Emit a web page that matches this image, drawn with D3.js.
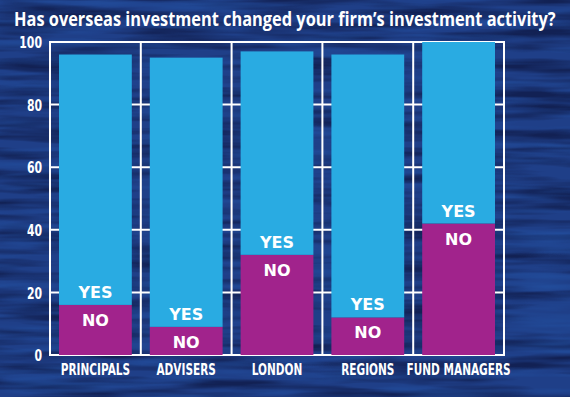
<!DOCTYPE html>
<html>
<head>
<meta charset="utf-8">
<script src="https://cdn.jsdelivr.net/npm/d3@7"></script>
<style>
  html, body { margin: 0; padding: 0; background: #1d3a80; }
  svg { display: block; }
</style>
</head>
<body>
<div id="chart"></div>
<script>
// Chart data
const categories = ["PRINCIPALS", "ADVISERS", "LONDON", "REGIONS", "FUND MANAGERS"];
const noValues = [16, 9, 32, 12, 42];
const yesValues = [80, 86, 65, 84, 58];
const yTicks = [0, 20, 40, 60, 80, 100];
const title = "Has overseas investment changed your firm\u2019s investment activity?";

const width = 570, height = 397;
const margin = { top: 42, right: 66, bottom: 42, left: 50 };
const innerW = width - margin.left - margin.right;
const innerH = height - margin.top - margin.bottom;
const condensed = 0.68;

const svg = d3.select("#chart").append("svg")
    .attr("width", width)
    .attr("height", height);

// Ocean-ish background: dark and light horizontal streaks
const defs = svg.append("defs");
function streaks(id, seed, r, gr, b, aMul, aOff) {
    const f = defs.append("filter")
        .attr("id", id)
        .attr("color-interpolation-filters", "sRGB")
        .attr("x", 0).attr("y", 0).attr("width", "100%").attr("height", "100%");
    f.append("feTurbulence")
        .attr("type", "fractalNoise")
        .attr("baseFrequency", "0.008 0.1")
        .attr("numOctaves", 3)
        .attr("seed", seed);
    f.append("feColorMatrix")
        .attr("type", "matrix")
        .attr("values", `0 0 0 0 ${r}  0 0 0 0 ${gr}  0 0 0 0 ${b}  ${aMul} 0 0 0 ${aOff}`);
}
streaks("dark", 3, 0.07, 0.13, 0.33, 2.6, -1.0);
streaks("light", 8, 0.14, 0.33, 0.65, 2.4, -1.1);

svg.append("rect").attr("width", width).attr("height", height).attr("fill", "#1f3f88");
svg.append("rect").attr("width", width).attr("height", height).attr("filter", "url(#dark)");
svg.append("rect").attr("width", width).attr("height", height).attr("filter", "url(#light)").attr("opacity", 0.6);

// Title, squeezed horizontally to the reference width
const titleText = svg.append("text")
    .attr("x", 0)
    .attr("y", 0)
    .style("font-family", "'Open Sans', sans-serif")
    .style("font-weight", 700)
    .style("font-size", "19px")
    .style("fill", "#ffffff")
    .text(title);
const titleLen = titleText.node().getComputedTextLength();
titleText.attr("transform", `translate(14,26) scale(${542 / titleLen},1)`);

const g = svg.append("g").attr("transform", `translate(${margin.left},${margin.top})`);

const x = d3.scaleBand().domain(categories).range([0, innerW]).paddingInner(0).paddingOuter(0);
const y = d3.scaleLinear().domain([0, 100]).range([innerH, 0]);
const barPad = 9;

// Grid lines (horizontal + band separators)
g.selectAll(".hgrid")
    .data(yTicks)
    .join("line")
    .attr("x1", 0).attr("x2", innerW)
    .attr("y1", d => y(d)).attr("y2", d => y(d))
    .attr("stroke", "#ffffff").attr("stroke-width", 2);

g.selectAll(".vgrid")
    .data(categories.slice(1))
    .join("line")
    .attr("x1", d => x(d)).attr("x2", d => x(d))
    .attr("y1", 0).attr("y2", innerH)
    .attr("stroke", "#ffffff").attr("stroke-width", 2);

// Frame
g.append("rect")
    .attr("x", 0).attr("y", 0)
    .attr("width", innerW).attr("height", innerH)
    .attr("fill", "none")
    .attr("stroke", "#ffffff").attr("stroke-width", 2);

// Stacked bars
const rows = categories.map((c, i) => ({ cat: c, no: noValues[i], yes: yesValues[i] }));

g.selectAll(".no")
    .data(rows)
    .join("rect")
    .attr("x", d => x(d.cat) + barPad)
    .attr("width", x.bandwidth() - 2 * barPad)
    .attr("y", d => y(d.no))
    .attr("height", d => y(0) - y(d.no))
    .attr("fill", "#a1238c");

g.selectAll(".yes")
    .data(rows)
    .join("rect")
    .attr("x", d => x(d.cat) + barPad)
    .attr("width", x.bandwidth() - 2 * barPad)
    .attr("y", d => y(d.no + d.yes))
    .attr("height", d => y(d.no) - y(d.no + d.yes))
    .attr("fill", "#29abe2");

const labelStyle = sel => sel
    .attr("text-anchor", "middle")
    .style("font-family", "'DejaVu Sans', sans-serif")
    .style("font-weight", 700)
    .style("font-size", "16px")
    .style("fill", "#ffffff");

g.selectAll(".yesLabel")
    .data(rows)
    .join("text")
    .attr("x", d => x(d.cat) + x.bandwidth() / 2)
    .attr("y", d => y(d.no) - 7)
    .call(labelStyle)
    .text("YES");

g.selectAll(".noLabel")
    .data(rows)
    .join("text")
    .attr("x", d => x(d.cat) + x.bandwidth() / 2)
    .attr("y", d => y(d.no) + 21)
    .call(labelStyle)
    .text("NO");

// Y axis labels
const yAxis = g.append("g")
    .call(d3.axisLeft(y).tickValues(yTicks).tickSize(0).tickPadding(0));
yAxis.select(".domain").remove();
yAxis.selectAll("text")
    .attr("x", -8 / condensed)
    .attr("dy", "0.36em")
    .attr("transform", `scale(${condensed},1)`)
    .style("font-family", "'DejaVu Sans', sans-serif")
    .style("font-weight", 700)
    .style("font-size", "16px")
    .style("fill", "#ffffff");

// X axis labels
const xAxis = g.append("g")
    .attr("transform", `translate(0,${innerH})`)
    .call(d3.axisBottom(x).tickSize(0).tickPadding(9));
xAxis.select(".domain").remove();
xAxis.selectAll("text")
    .attr("transform", `scale(${condensed},1)`)
    .style("font-family", "'DejaVu Sans', sans-serif")
    .style("font-weight", 700)
    .style("font-size", "15.5px")
    .style("fill", "#ffffff");
</script>
</body>
</html>
